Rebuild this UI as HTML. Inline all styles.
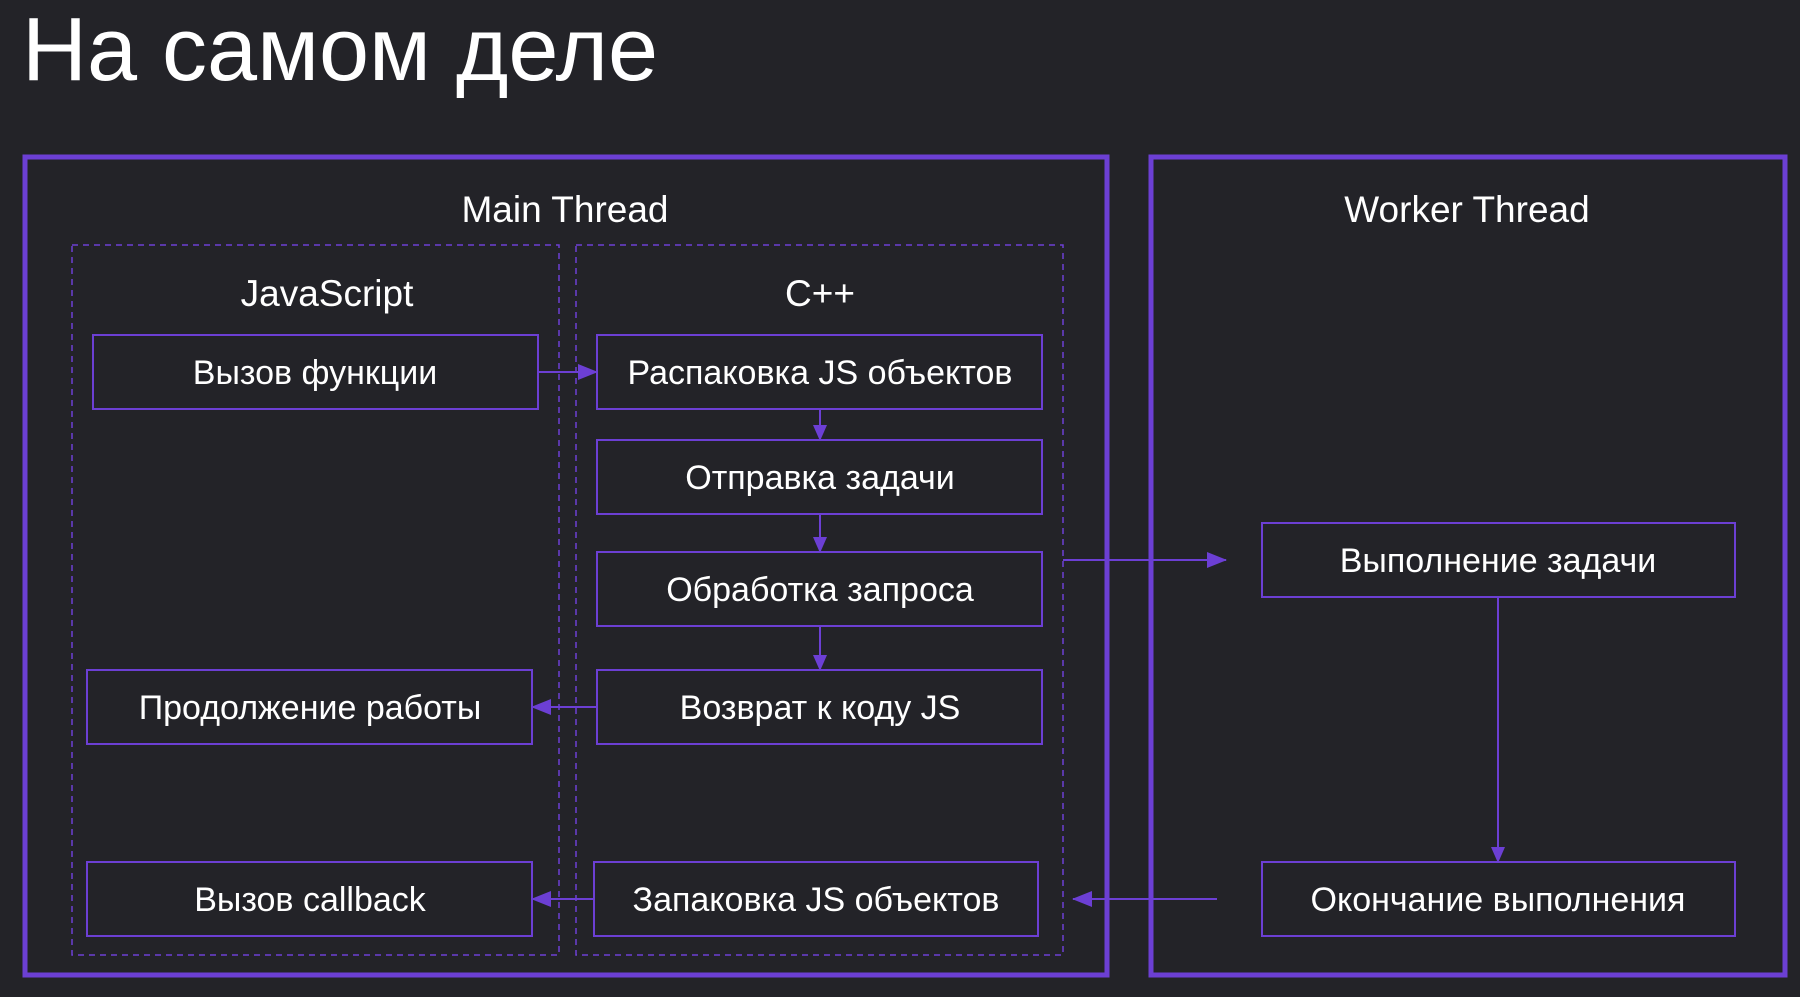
<!DOCTYPE html>
<html><head><meta charset="utf-8"><style>
html,body{margin:0;padding:0;background:#232328;}
body{width:1800px;height:997px;overflow:hidden;position:relative;font-family:"Liberation Sans","DejaVu Sans",sans-serif;color:#fff;}
</style></head><body>
<svg width="1800" height="997" viewBox="0 0 1800 997" xmlns="http://www.w3.org/2000/svg" style="position:absolute;left:0;top:0">
<defs>
<marker id="a" markerWidth="16" markerHeight="14" refX="15" refY="7" orient="auto" markerUnits="userSpaceOnUse">
<path d="M0,0 L16,7 L0,14 Z" fill="#6c3fd4"/></marker>
<marker id="b" markerWidth="20" markerHeight="16" refX="19" refY="8" orient="auto" markerUnits="userSpaceOnUse">
<path d="M0,0 L20,8 L0,16 Z" fill="#6c3fd4"/></marker>
</defs>
<text x="22" y="80" font-size="90" font-weight="300" fill="#fff" font-family="Liberation Sans, DejaVu Sans, sans-serif">На самом деле</text>
<rect x="25" y="157" width="1082" height="818" fill="none" stroke="#6c3fd4" stroke-width="5"/>
<rect x="1151" y="157" width="634" height="818" fill="none" stroke="#6c3fd4" stroke-width="5"/>
<g font-size="37" fill="#fff" text-anchor="middle" font-family="Liberation Sans, DejaVu Sans, sans-serif">
<text x="565" y="222">Main Thread</text>
<text x="1467" y="222">Worker Thread</text>
<text x="327" y="306">JavaScript</text>
<text x="820" y="306">C++</text>
</g>
<rect x="72" y="245" width="487" height="710" fill="none" stroke="#6c3fd4" stroke-width="1.5" stroke-dasharray="6,5"/>
<rect x="576" y="245" width="487" height="710" fill="none" stroke="#6c3fd4" stroke-width="1.5" stroke-dasharray="6,5"/>
<g fill="none" stroke="#6c3fd4" stroke-width="2">
<rect x="93" y="335" width="445" height="74"/>
<rect x="597" y="335" width="445" height="74"/>
<rect x="597" y="440" width="445" height="74"/>
<rect x="597" y="552" width="445" height="74"/>
<rect x="597" y="670" width="445" height="74"/>
<rect x="87" y="670" width="445" height="74"/>
<rect x="87" y="862" width="445" height="74"/>
<rect x="594" y="862" width="444" height="74"/>
<rect x="1262" y="523" width="473" height="74"/>
<rect x="1262" y="862" width="473" height="74"/>
<line x1="538" y1="372" x2="597" y2="372" marker-end="url(#b)"/>
<line x1="820" y1="409" x2="820" y2="440" marker-end="url(#a)"/>
<line x1="820" y1="514" x2="820" y2="552" marker-end="url(#a)"/>
<line x1="820" y1="626" x2="820" y2="670" marker-end="url(#a)"/>
<line x1="597" y1="707" x2="532" y2="707" marker-end="url(#b)"/>
<line x1="594" y1="899" x2="532" y2="899" marker-end="url(#b)"/>
<line x1="1063" y1="560" x2="1226" y2="560" marker-end="url(#b)"/>
<line x1="1498" y1="597" x2="1498" y2="862" marker-end="url(#a)"/>
<line x1="1217" y1="899" x2="1073" y2="899" marker-end="url(#b)"/>
</g>
<g font-size="34" fill="#fff" text-anchor="middle" font-family="Liberation Sans, DejaVu Sans, sans-serif">
<text x="315" y="384">Вызов функции</text>
<text x="820" y="384">Распаковка JS объектов</text>
<text x="820" y="489">Отправка задачи</text>
<text x="820" y="601">Обработка запроса</text>
<text x="820" y="719">Возврат к коду JS</text>
<text x="310" y="719">Продолжение работы</text>
<text x="310" y="911">Вызов callback</text>
<text x="816" y="911">Запаковка JS объектов</text>
<text x="1498" y="572">Выполнение задачи</text>
<text x="1498" y="911">Окончание выполнения</text>
</g>
</svg>
</body></html>
